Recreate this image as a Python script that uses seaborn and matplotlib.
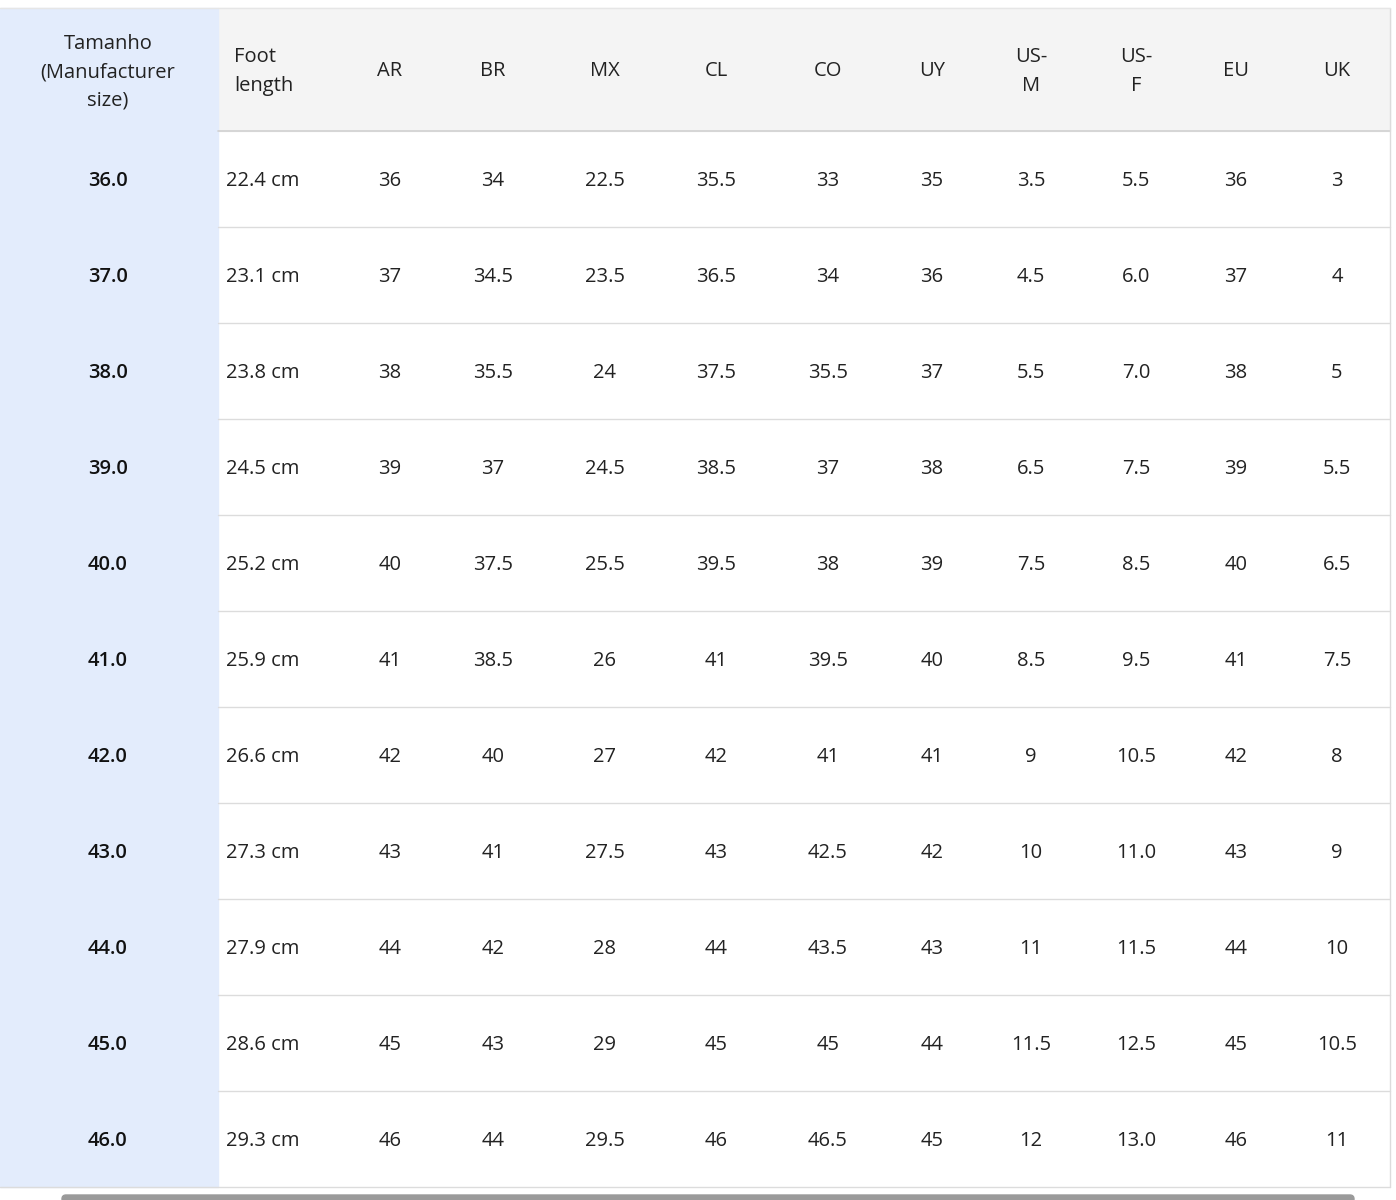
import matplotlib
matplotlib.use("Agg")
import matplotlib.pyplot as plt
from matplotlib.patches import Rectangle, FancyBboxPatch
import seaborn as sns

# table data
headers = ["Tamanho\n(Manufacturer\nsize)", "Foot\nlength", "AR", "BR", "MX", "CL", "CO", "UY",
           "US-\nM", "US-\nF", "EU", "UK"]
manufacturer = ["36.0", "37.0", "38.0", "39.0", "40.0", "41.0", "42.0", "43.0", "44.0", "45.0", "46.0"]
foot_length = ["22.4 cm", "23.1 cm", "23.8 cm", "24.5 cm", "25.2 cm", "25.9 cm", "26.6 cm",
               "27.3 cm", "27.9 cm", "28.6 cm", "29.3 cm"]
ar = ["36", "37", "38", "39", "40", "41", "42", "43", "44", "45", "46"]
br = ["34", "34.5", "35.5", "37", "37.5", "38.5", "40", "41", "42", "43", "44"]
mx = ["22.5", "23.5", "24", "24.5", "25.5", "26", "27", "27.5", "28", "29", "29.5"]
cl = ["35.5", "36.5", "37.5", "38.5", "39.5", "41", "42", "43", "44", "45", "46"]
co = ["33", "34", "35.5", "37", "38", "39.5", "41", "42.5", "43.5", "45", "46.5"]
uy = ["35", "36", "37", "38", "39", "40", "41", "42", "43", "44", "45"]
us_m = ["3.5", "4.5", "5.5", "6.5", "7.5", "8.5", "9", "10", "11", "11.5", "12"]
us_f = ["5.5", "6.0", "7.0", "7.5", "8.5", "9.5", "10.5", "11.0", "11.5", "12.5", "13.0"]
eu = ["36", "37", "38", "39", "40", "41", "42", "43", "44", "45", "46"]
uk = ["3", "4", "5", "5.5", "6.5", "7.5", "8", "9", "10", "10.5", "11"]
columns = [manufacturer, foot_length, ar, br, mx, cl, co, uy, us_m, us_f, eu, uk]

# layout (pixels)
W, H = 1396, 1200
x_centers = [108, 268, 390, 493, 605, 716, 828, 932, 1031, 1136, 1236, 1337]
top, head_bot, row_h = 8, 131, 96
left_w, right = 218, 1390

sns.set_theme(style="white")
plt.rcParams["font.family"] = ["Open Sans", "DejaVu Sans"]
fig = plt.figure(figsize=(W / 100, H / 100), dpi=100)
ax = fig.add_axes([0, 0, 1, 1])
ax.set_xlim(0, W)
ax.set_ylim(H, 0)
ax.axis("off")

n = len(manufacturer)
bottom = head_bot + n * row_h
ax.add_patch(Rectangle((left_w, top), right - left_w, head_bot - top, color="#f4f4f4", zorder=0))
ax.add_patch(Rectangle((0, top), left_w, bottom - top, color="#e3ecfc", zorder=0))
ax.plot([left_w, right], [head_bot, head_bot], color="#d0d0d0", lw=1.2)
for i in range(1, n):
    y = head_bot + i * row_h
    ax.plot([left_w, right], [y, y], color="#dcdcdc", lw=1.0)
ax.plot([right, right], [top, bottom], color="#dcdcdc", lw=1.0)
ax.plot([0, right], [top, top], color="#e6e6e6", lw=1.0)
ax.plot([0, right], [bottom, bottom], color="#dcdcdc", lw=1.0)
# scrollbar
ax.add_patch(FancyBboxPatch((62, 1195), 1292, 8, boxstyle="round,pad=0,rounding_size=4",
                            color="#9a9a9a", zorder=1))

txt = "#222222"
fs = 14.5
for j, (h, xc) in enumerate(zip(headers, x_centers)):
    if j == 1:
        ax.text(234, (top + head_bot) / 2 + 2, h, ha="left", va="center", fontsize=fs,
                color=txt, linespacing=1.55, fontweight="medium")
    else:
        ax.text(xc, (top + head_bot) / 2 + (3 if j == 0 else 2), h, ha="center", va="center",
                fontsize=fs, color=txt, linespacing=1.55, fontweight="medium")

for j, col in enumerate(columns):
    for i, v in enumerate(col):
        y = head_bot + (i + 0.5) * row_h + 2
        if j == 0:
            ax.text(x_centers[j], y, v, ha="center", va="center", fontsize=fs,
                    fontweight="semibold", color="#111111")
        elif j == 1:
            ax.text(226, y, v, ha="left", va="center", fontsize=fs, color=txt)
        else:
            ax.text(x_centers[j], y, v, ha="center", va="center", fontsize=fs, color=txt)

fig.savefig("out.png", dpi=100)
